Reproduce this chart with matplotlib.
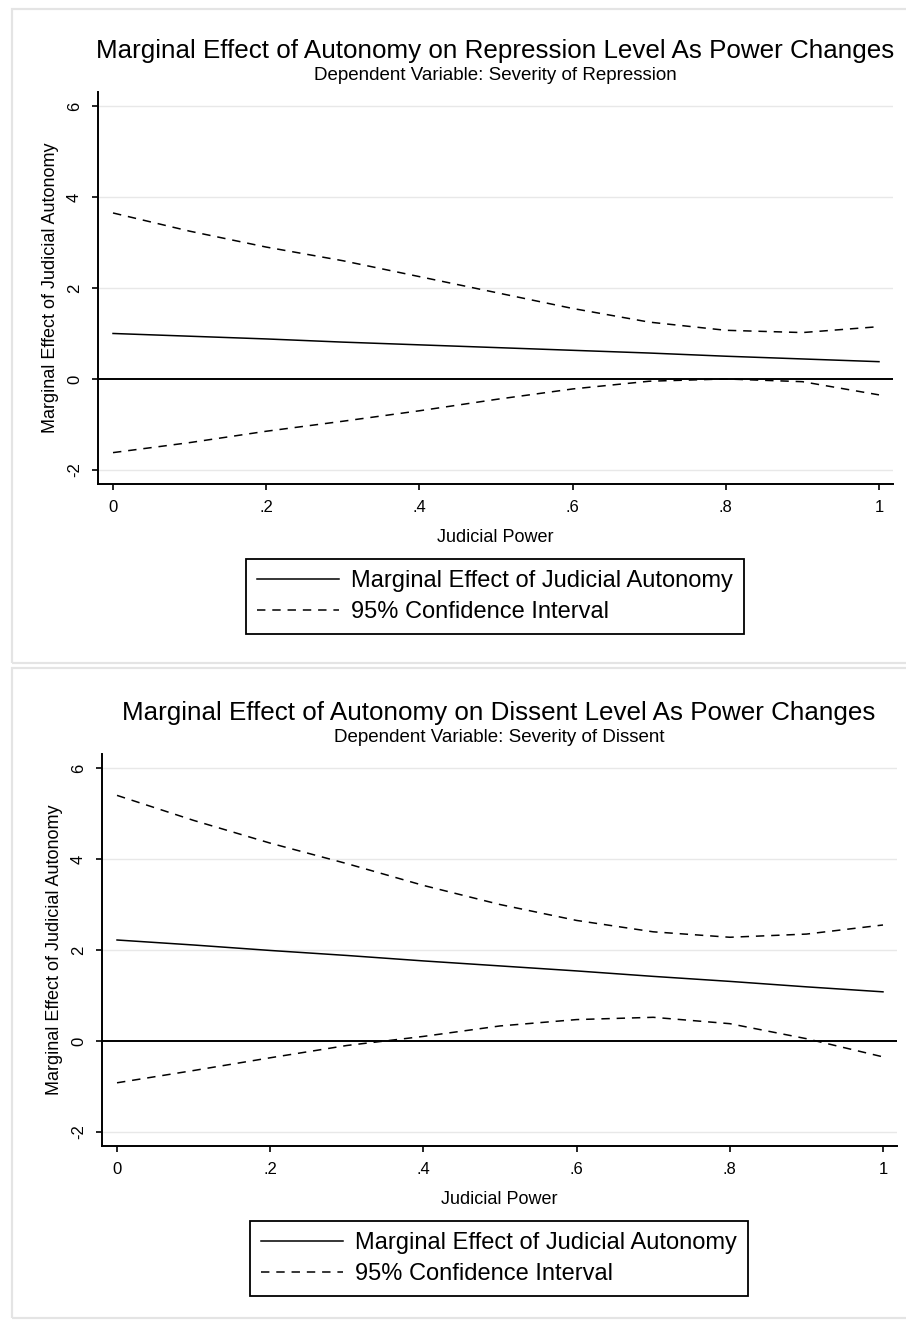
import numpy as np
import matplotlib
matplotlib.use('Agg')
import matplotlib.pyplot as plt
from matplotlib.patches import Rectangle
from matplotlib.lines import Line2D

plt.rcParams['font.family'] = ['Liberation Sans', 'DejaVu Sans']

power = [0, .1, .2, .3, .4, .5, .6, .7, .8, .9, 1]

# repression model
rep_me = [1.00, 0.94, 0.88, 0.81, 0.75, 0.69, 0.63, 0.57, 0.50, 0.44, 0.38]
rep_hi = [3.65, 3.25, 2.90, 2.60, 2.25, 1.90, 1.55, 1.25, 1.07, 1.02, 1.15]
rep_lo = [-1.62, -1.40, -1.15, -0.93, -0.70, -0.45, -0.22, -0.05, 0.00, -0.06, -0.35]

# dissent model
dis_me = [2.22, 2.11, 1.99, 1.88, 1.76, 1.65, 1.54, 1.42, 1.31, 1.19, 1.08]
dis_hi = [5.40, 4.85, 4.35, 3.90, 3.42, 3.00, 2.65, 2.40, 2.28, 2.35, 2.55]
dis_lo = [-0.92, -0.65, -0.37, -0.10, 0.10, 0.33, 0.47, 0.52, 0.38, 0.05, -0.35]

xticks = [0, .2, .4, .6, .8, 1]
xticklabels = ['0', '.2', '.4', '.6', '.8', '1']
yticks = [-2, 0, 2, 4, 6]
yticklabels = ['-2', '0', '2', '4', '6']

titles = ['Marginal Effect of Autonomy on Repression Level As Power Changes',
          'Marginal Effect of Autonomy on Dissent Level As Power Changes']
subtitles = ['Dependent Variable: Severity of Repression',
             'Dependent Variable: Severity of Dissent']

W, H = 906, 1322
fig = plt.figure(figsize=(W/100, H/100), dpi=100)

def fy(p):
    return 1 - p/H

# grey panel outlines
for top, bot in [(9, 663), (668, 1318)]:
    fig.patches.append(Rectangle((12/W, fy(bot)), (W+5-12)/W, (bot-top)/H,
                                 transform=fig.transFigure, fill=False,
                                 edgecolor='#e4e4e4', linewidth=1.6))

panels = [(rep_me, rep_hi, rep_lo, 98, 0), (dis_me, dis_hi, dis_lo, 102, 662)]
dash = (0, (5.5, 4.5))

for i, (me, hi, lo, left, off) in enumerate(panels):
    ax = fig.add_axes([left/W, fy(484+off), 795/W, 392/H])
    ax.set_xlim(-0.0196, 1.0183)
    ax.set_ylim(-2.31, 6.31)
    for yv in [-2, 2, 4, 6]:
        ax.axhline(yv, color='#e8e8e8', lw=1.0, zorder=0)
    ax.axhline(0, color='black', lw=1.4, zorder=1)
    ax.plot(power, me, color='black', lw=1.1, zorder=2)
    ax.plot(power, hi, color='black', lw=1.1, linestyle=dash, zorder=2)
    ax.plot(power, lo, color='black', lw=1.1, linestyle=dash, zorder=2)
    for s in ['top', 'right']:
        ax.spines[s].set_visible(False)
    for s in ['left', 'bottom']:
        ax.spines[s].set_linewidth(1.4)
    ax.set_xticks(xticks)
    ax.set_xticklabels(xticklabels, fontsize=12)
    ax.set_yticks(yticks)
    ax.set_yticklabels(yticklabels, fontsize=12, rotation=90, va='center')
    ax.tick_params(length=4.5, width=1.2, pad=7)
    ax.set_xlabel('Judicial Power', fontsize=13, labelpad=10)
    ax.set_ylabel('Marginal Effect of Judicial Autonomy', fontsize=13, labelpad=6)

    cx = (left + 397)/W
    fig.text(cx, fy(51+off), titles[i], fontsize=18.7, ha='center', va='center')
    fig.text(cx, fy(76+off), subtitles[i], fontsize=13.5, ha='center', va='center')

    handles = [Line2D([], [], color='black', lw=1.1),
               Line2D([], [], color='black', lw=1.1, linestyle=dash)]
    leg = fig.legend(handles, ['Marginal Effect of Judicial Autonomy', '95% Confidence Interval'],
                     loc='upper center', bbox_to_anchor=(cx, fy(559+off)),
                     fontsize=17, frameon=True, fancybox=False, edgecolor='black',
                     framealpha=1, handlelength=3.5, handletextpad=0.5,
                     labelspacing=0.38, borderpad=0.46, borderaxespad=0)
    leg.get_frame().set_linewidth(1.3)

plt.savefig('out.png', dpi=100)
